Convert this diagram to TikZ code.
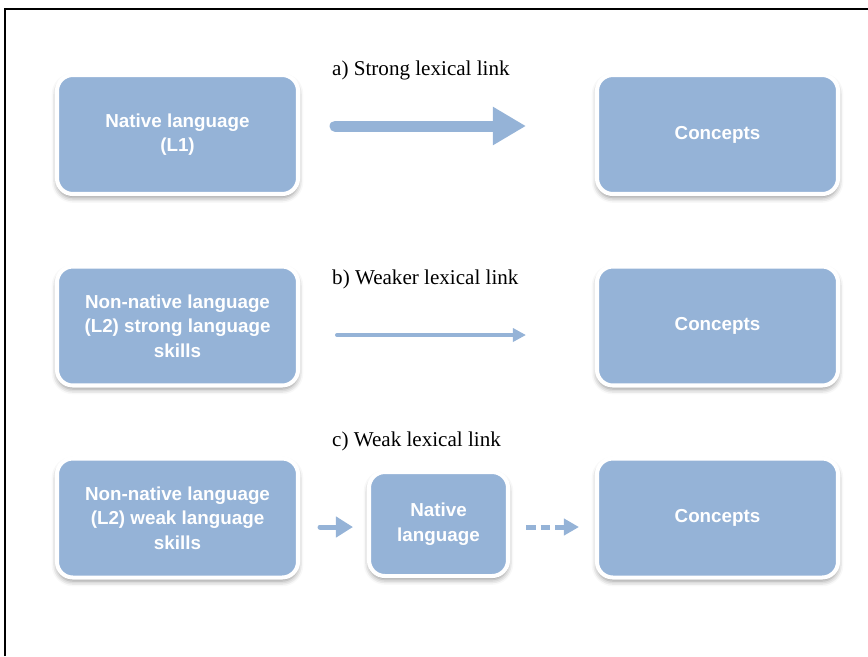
\documentclass[tikz,border=0pt]{standalone}
\usepackage{fontspec}
\setmainfont{Liberation Serif}
\setsansfont{Liberation Sans}
\usetikzlibrary{arrows.meta, shadows.blur}
\definecolor{boxblue}{RGB}{149,179,215}

\begin{document}
\begin{tikzpicture}[align = center,
        box/.style = {draw = white, line width = 2.3pt, fill = boxblue, rounded corners = 9pt,
            minimum width = 4.82cm, minimum height = 2.38cm, text = white,
            font = \sffamily\bfseries\fontsize{10.7}{14}\selectfont,
            blur shadow = {shadow xshift = 0pt, shadow yshift = -2pt,
                shadow blur radius = 3pt, shadow opacity = 45}},
        linklabel/.style = {anchor = west, font = \fontsize{12}{14}\selectfont},
        link/.style = {draw = boxblue, line cap = round}]
        \useasboundingbox (0, 0) rectangle (17.36, - 13.12);
        \draw[line width = 1.2pt] (0.1, - 13.12) -- (0.1, - 0.18) -- (17.36, - 0.18);

        \node[box] (L1) at (3.55, - 2.69) {Native language \\ (L1)};
        \node[box] (C1) at (14.35, - 2.69) {Concepts};
        \node[linklabel] (la) at (6.52, - 1.40) {a) Strong lexical link};

        \node[box] (L2) at (3.55, - 6.52) {Non-native language \\ (L2) strong language \\ skills};
        \node[box] (C2) at (14.35, - 6.52) {Concepts};
        \node[linklabel] (lb) at (6.52, - 5.58) {b) Weaker lexical link};

        \node[box] (L3) at (3.55, - 10.36) {Non-native language \\ (L2) weak language \\ skills};
        \node[box, minimum width = 2.78cm, minimum height = 2.08cm] (N3) at (8.77, - 10.48) {Native \\ language};
        \node[box] (C3) at (14.35, - 10.36) {Concepts};
        \node[linklabel] (lc) at (6.52, - 8.82) {c) Weak lexical link};

        \draw[link, line width = 0.22cm, -{Triangle[length = 0.66cm, width = 0.72cm]},
            shorten <= 0.7cm, shorten >= 1.38cm]
            ([yshift = 0.17cm] L1.east) -- ([yshift = 0.17cm] C1.west);
        \draw[link, line width = 0.08cm, -{Triangle[length = 0.26cm, width = 0.26cm]},
            shorten <= 0.74cm, shorten >= 1.38cm]
            ([yshift = - 0.18cm] L2.east) -- ([yshift = - 0.18cm] C2.west);
        \draw[link, line width = 0.1cm, -{Triangle[length = 0.34cm, width = 0.4cm]},
            shorten <= 0.4cm, shorten >= 0.28cm]
            ([yshift = - 0.06cm] L3.east |- N3.west) -- ([yshift = - 0.06cm] N3.west);
        \draw[link, line cap = butt, line width = 0.1cm, dash pattern = on 0.19cm off 0.1cm,
            -{Triangle[length = 0.3cm, width = 0.32cm]},
            shorten <= 0.32cm, shorten >= 0.32cm]
            ([yshift = - 0.06cm] N3.east) -- ([yshift = - 0.06cm] C3.west |- N3.east);
    \end{tikzpicture}
\end{document}
